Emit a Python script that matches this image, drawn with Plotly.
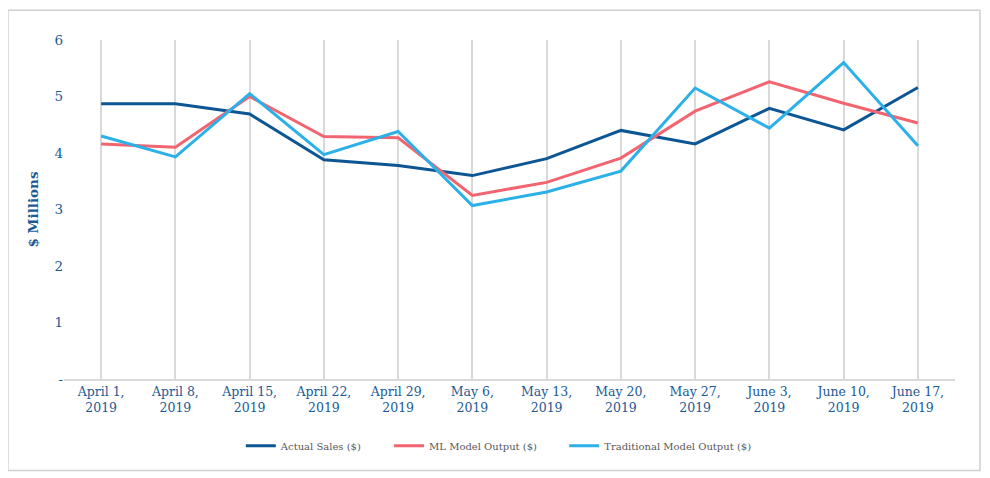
import plotly.graph_objects as go

# weekly sales vs. model outputs, $ millions
weeks = ["April 1,<br>2019", "April 8,<br>2019", "April 15,<br>2019", "April 22,<br>2019",
         "April 29,<br>2019", "May 6,<br>2019", "May 13,<br>2019", "May 20,<br>2019",
         "May 27,<br>2019", "June 3,<br>2019", "June 10,<br>2019", "June 17,<br>2019"]
actual_sales = [4.87, 4.87, 4.69, 3.88, 3.78, 3.60, 3.90, 4.40, 4.16, 4.79, 4.41, 5.16]
ml_output = [4.16, 4.10, 5.00, 4.29, 4.27, 3.25, 3.48, 3.91, 4.74, 5.26, 4.88, 4.53]
traditional_output = [4.30, 3.93, 5.05, 3.97, 4.38, 3.07, 3.31, 3.68, 5.15, 4.44, 5.60, 4.13]

y_ticks = [0, 1, 2, 3, 4, 5, 6]
y_ticklabels = ["-", "1", "2", "3", "4", "5", "6"]

BLUE_TEXT = "#1B5A96"
FONT = "DejaVu Serif"
PAD = "\u00a0" * 7  # extra room between legend entries

series = [
    ("Actual Sales ($)" + PAD, actual_sales, "#0C5694"),
    ("ML Model Output ($)" + PAD, ml_output, "#F2646F"),
    ("Traditional Model Output ($)", traditional_output, "#2CB0E8"),
]

fig = go.Figure()
for name, vals, color in series:
    fig.add_trace(go.Scatter(x=weeks, y=vals, name=name, mode="lines",
                             line=dict(color=color, width=3)))

# page body adds an 8px margin, so the figure is 8px smaller than the window
fig.update_layout(
    width=982, height=470,
    margin=dict(l=56, r=35, t=32, b=99),
    plot_bgcolor="white", paper_bgcolor="white",
    font=dict(family=FONT, color=BLUE_TEXT),
    showlegend=True,
    legend=dict(orientation="h", x=0.488, xanchor="center", y=-0.197, yanchor="middle",
                font=dict(size=10, color="#595959", family=FONT),
                itemwidth=30, tracegroupgap=0),
    shapes=[dict(type="rect", xref="paper", yref="paper",
                 x0=-0.0629, x1=1.028, y0=-0.270, y1=1.088,
                 line=dict(color="#D0D0D0", width=1.5), layer="below")],
)

fig.update_xaxes(
    type="category", range=[-0.5, len(weeks) - 0.5],
    showgrid=True, gridcolor="#D9D9D9", gridwidth=1.5,
    showline=True, linecolor="#D9D9D9", linewidth=1.5,
    ticks="", tickfont=dict(size=12.5, color=BLUE_TEXT, family=FONT),
)
fig.update_yaxes(
    range=[0, 6], tickvals=y_ticks, ticktext=y_ticklabels,
    showgrid=False, zeroline=False, showline=False, ticks="",
    tickfont=dict(size=13.5, color=BLUE_TEXT, family=FONT),
    title=dict(text="<b>$ Millions</b>", font=dict(size=13.5, color=BLUE_TEXT, family=FONT),
               standoff=12),
)

fig.write_html("out.html")
